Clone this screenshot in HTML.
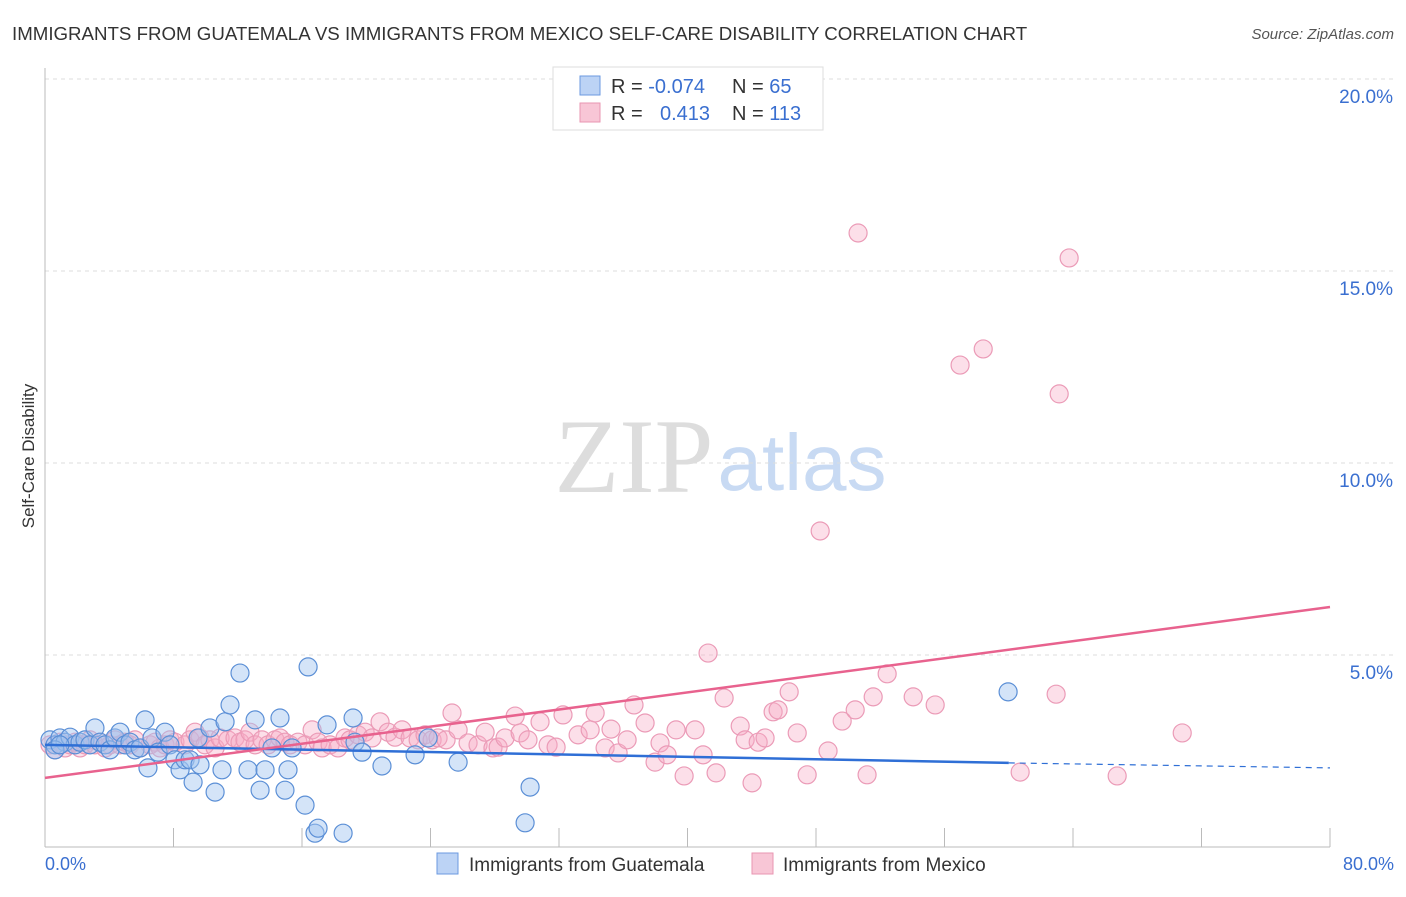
<!DOCTYPE html>
<html><head><meta charset="utf-8"><style>
body{margin:0;background:#fff;font-family:"Liberation Sans",sans-serif;}
</style></head><body>
<svg width="1406" height="892" xmlns="http://www.w3.org/2000/svg" id="svg" style="font-family:'Liberation Sans',sans-serif">
<text x="12" y="40" font-size="18.7" fill="#333">IMMIGRANTS FROM GUATEMALA VS IMMIGRANTS FROM MEXICO SELF-CARE DISABILITY CORRELATION CHART</text>
<text x="1394" y="39" font-size="15" fill="#555" font-style="italic" text-anchor="end">Source: ZipAtlas.com</text>
<g>
<text x="634" y="492" font-size="106" font-family="Liberation Serif,serif" fill="#ddd" text-anchor="middle">ZIP</text>
<text x="802" y="490" font-size="80" fill="#c8daf3" text-anchor="middle">atlas</text>
</g>
<g id="grid"></g>
<g id="axes"></g>
<g id="pts"></g>
<g id="trend"></g>
<text transform="translate(34,456) rotate(-90)" font-size="17" fill="#333" text-anchor="middle">Self-Care Disability</text>
<text x="45" y="870" font-size="18" fill="#3a6fd0">0.0%</text>
<text x="1394" y="870" font-size="18" fill="#3a6fd0" text-anchor="end">80.0%</text>
<g>
<rect x="437" y="853" width="21" height="21" fill="#bcd3f5" stroke="#6b9ae0"/>
<text x="469" y="871" font-size="19" fill="#333">Immigrants from Guatemala</text>
<rect x="752" y="853" width="21" height="21" fill="#f8c6d6" stroke="#e896b2"/>
<text x="783" y="871" font-size="19" fill="#333">Immigrants from Mexico</text>
</g>
<g>
<rect x="553" y="67" width="270" height="63" fill="#fff" stroke="#ddd"/>
<rect x="580" y="76" width="20" height="19" fill="#bcd3f5" stroke="#6b9ae0"/>
<rect x="580" y="103" width="20" height="19" fill="#f8c6d6" stroke="#e896b2"/>
<text x="611" y="93" font-size="20" fill="#333">R = <tspan fill="#3a6fd0">-0.074</tspan></text>
<text x="732" y="93" font-size="20" fill="#333">N = <tspan fill="#3a6fd0">65</tspan></text>
<text x="611" y="120" font-size="20" fill="#333">R = <tspan fill="#3a6fd0" x="660">0.413</tspan></text>
<text x="732" y="120" font-size="20" fill="#333">N = <tspan fill="#3a6fd0">113</tspan></text>
</g>
</svg>
<script>
const yTicks=[5,10,15,20];
const yTickLabels=["5.0%","10.0%","15.0%","20.0%"];
const xTicks=[0,8,16,24,32,40,48,56,64,72,80];
const guatemalaX=[0.31,0.62,0.93,1.25,1.56,1.87,2.18,2.49,2.80,3.11,3.42,3.74,4.05,4.36,4.67,4.98,5.29,5.60,5.92,6.23,6.41,6.66,7.04,7.47,7.78,8.09,8.41,8.72,9.03,9.22,9.53,9.65,10.27,10.59,11.02,11.21,11.52,12.14,12.64,13.08,13.39,13.70,14.13,14.63,14.94,15.13,15.38,16.19,16.38,16.81,17.00,17.56,18.56,19.18,19.30,19.74,20.98,23.04,23.85,25.72,30.20,29.89,59.96,0.62,0.93];
const guatemalaY=[2.79,2.66,2.84,2.73,2.86,2.66,2.73,2.79,2.66,3.10,2.73,2.66,2.53,2.84,2.99,2.66,2.73,2.53,2.58,3.31,2.06,2.84,2.47,2.99,2.66,2.27,2.01,2.27,2.27,1.69,2.84,2.14,3.10,1.43,2.01,3.26,3.70,4.53,2.01,3.31,1.48,2.01,2.58,3.36,1.48,2.01,2.58,1.09,4.69,0.36,0.49,3.18,0.36,3.36,2.73,2.47,2.11,2.40,2.84,2.21,1.56,0.63,4.04,2.53,2.66];
const mexicoX=[0.31,0.62,0.93,1.25,1.56,1.87,2.18,2.49,2.80,3.11,3.42,3.74,4.05,4.36,4.67,4.98,5.29,5.60,5.92,6.54,6.85,7.16,7.47,7.78,8.09,8.72,9.03,9.34,9.65,9.96,10.27,10.59,10.90,11.39,11.83,12.14,12.45,12.76,13.08,13.51,13.89,14.32,14.63,14.94,15.26,15.75,16.19,16.63,17.00,17.25,17.75,18.24,18.68,18.99,19.49,19.93,20.36,20.86,21.36,21.79,22.23,22.73,23.23,23.66,24.10,24.47,24.97,25.34,25.72,26.34,26.96,27.40,27.89,28.21,28.64,29.27,29.58,30.07,30.82,31.32,31.82,32.25,33.19,33.94,34.25,34.87,35.24,35.68,36.24,36.67,37.36,37.98,38.29,38.73,39.29,39.79,40.47,40.97,41.28,41.78,42.28,43.28,43.59,44.02,44.40,44.83,45.33,45.64,46.33,46.83,47.45,48.75,49.63,50.44,50.62,51.18,51.56,52.43,54.05,55.42,56.97,58.41,60.71,62.95,63.14,63.76,66.75,70.80,48.26];
const mexicoY=[2.66,2.53,2.73,2.58,2.66,2.73,2.58,2.66,2.79,2.66,2.73,2.58,2.66,2.79,2.66,2.73,2.66,2.79,2.58,2.66,2.73,2.58,2.66,2.79,2.73,2.66,2.79,2.99,2.84,2.66,2.79,2.58,2.84,2.79,2.84,2.73,2.79,2.99,2.66,2.79,2.66,2.79,2.84,2.73,2.66,2.73,2.66,3.05,2.73,2.58,2.66,2.58,2.84,2.79,2.92,2.99,2.84,3.26,2.99,2.86,3.05,2.84,2.79,2.92,2.79,2.84,2.79,3.49,3.05,2.71,2.66,2.99,2.58,2.60,2.84,3.41,2.97,2.79,3.26,2.66,2.60,3.44,2.92,3.05,3.49,2.58,3.07,2.45,2.79,3.70,3.23,2.21,2.71,2.40,3.05,1.85,3.05,2.40,5.05,1.93,3.88,3.15,2.79,1.67,2.73,2.84,3.52,3.57,4.04,2.97,1.88,2.50,3.28,3.57,15.99,1.88,3.91,4.51,3.91,3.70,12.55,12.97,1.95,3.98,11.80,15.34,1.85,2.97,8.23];
const guatemalaTrend=[[0,2.66],[60,2.19],[80,2.06]];
const mexicoTrend=[[0,1.80],[80,6.25]];
const NS="http://www.w3.org/2000/svg";
const X0=45,X1=1330,Y0=847,PY=38.4;
function sx(v){return X0+(X1-X0)*v/80;}
function sy(v){return Y0-v*PY;}
function mk(tag,attrs,parent){const e=document.createElementNS(NS,tag);for(const k in attrs)e.setAttribute(k,attrs[k]);parent.appendChild(e);return e;}
const grid=document.getElementById('grid'),axes=document.getElementById('axes'),pts=document.getElementById('pts'),trend=document.getElementById('trend');
yTicks.forEach((t,i)=>{
 const l=mk('line',{x1:X0,x2:1394,y1:sy(t),y2:sy(t),stroke:'#ddd','stroke-dasharray':'4,4'},grid);
 
 
 const tx=mk('text',{x:1393,y:sy(t)+24,'font-size':19,fill:'#3a6fd0','text-anchor':'end'},grid);
 tx.textContent=yTickLabels[i];
 
 
});
const ya=mk('line',{x1:X0,x2:X0,y1:68,y2:Y0,stroke:'#bbb'},axes);


const xa=mk('line',{x1:X0,x2:X1,y1:Y0,y2:Y0,stroke:'#bbb'},axes);


xTicks.forEach(t=>{
 const l=mk('line',{x1:sx(t),x2:sx(t),y1:828,y2:Y0,stroke:'#bbb'},axes);
 
 
});
mexicoX.forEach((x,i)=>{
 const c=mk('circle',{cx:sx(x),cy:sy(mexicoY[i]),r:9,fill:'rgba(246,170,196,0.38)',stroke:'#eb9bb7','stroke-width':1.2},pts);
 
 
});
guatemalaX.forEach((x,i)=>{
 const c=mk('circle',{cx:sx(x),cy:sy(guatemalaY[i]),r:9,fill:'rgba(160,196,240,0.45)',stroke:'#5b8fd6','stroke-width':1.2},pts);
 
 
});
const g1=mk('line',{x1:sx(guatemalaTrend[0][0]),y1:sy(guatemalaTrend[0][1]),x2:sx(guatemalaTrend[1][0]),y2:sy(guatemalaTrend[1][1]),stroke:'#2f6fd6','stroke-width':2.5},trend);


const g2=mk('line',{x1:sx(guatemalaTrend[1][0]),y1:sy(guatemalaTrend[1][1]),x2:sx(guatemalaTrend[2][0]),y2:sy(guatemalaTrend[2][1]),stroke:'#2f6fd6','stroke-width':1.2,'stroke-dasharray':'6,5'},trend);


const m1=mk('line',{x1:sx(mexicoTrend[0][0]),y1:sy(mexicoTrend[0][1]),x2:sx(mexicoTrend[1][0]),y2:sy(mexicoTrend[1][1]),stroke:'#e8628e','stroke-width':2.5},trend);


</script>
</body></html>
